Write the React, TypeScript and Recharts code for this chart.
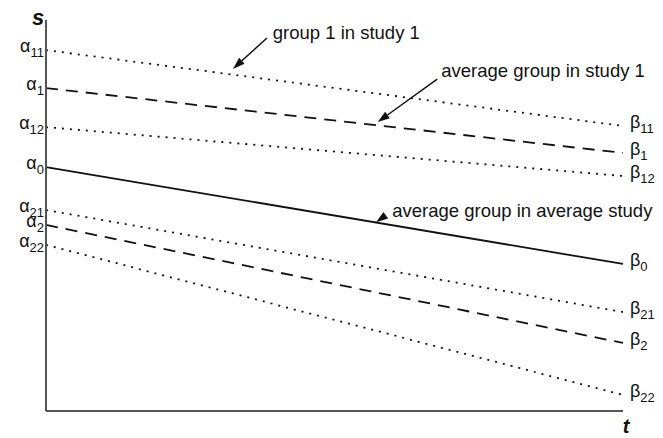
import { LineChart, Line, XAxis, YAxis, ReferenceLine, ReferenceDot } from 'recharts';

// time points (start / end of each line)
const times = [0, 1];

const seriesKeys = ['g11', 'g1', 'g12', 'g0', 'g21', 'g2', 'g22'];
const subscripts = ['11', '1', '12', '0', '21', '2', '22'];
// intercepts (alpha) and end values (beta)
const alphas = [92.3, 82.6, 72.6, 62.4, 51.4, 47.6, 42.5];
const betas = [72.9, 66.0, 60.1, 37.6, 25.3, 17.4, 4.1];
const dashes = ['2 6', '12 8', '2 6', undefined, '2 6', '12 8', '2 6'];

const annotationTexts = ['group 1 in study 1', 'average group in study 1', 'average group in average study'];
const arrowTails = [{ x: 0.383, y: 95.4 }, { x: 0.678, y: 84.9 }, { x: 0.589, y: 50.1 }];
const arrowTips = [{ x: 0.324, y: 87.5 }, { x: 0.575, y: 73.9 }, { x: 0.572, y: 48.3 }];
const labelPoints = [{ x: 0.393, y: 96.7 }, { x: 0.685, y: 87.0 }, { x: 0.6, y: 51.2 }];

const data = times.map((t, i) => {
  const row: Record<string, number> = { t };
  seriesKeys.forEach((k, j) => {
    row[k] = i === 0 ? alphas[j] : betas[j];
  });
  return row;
});

const FONT = '"Liberation Sans", Arial, sans-serif';
const AXIS = '#555';

const greekLabel = (letter: string, sub: string, x: number, y: number, anchor: 'start' | 'end') => (
  <text x={x} y={y} textAnchor={anchor} fontFamily={FONT} fill="#111">
    <tspan fontSize={18} dy={2}>{letter}</tspan>
    <tspan fontSize={13} dy={5}>{sub}</tspan>
  </text>
);

const AlphaTick = (props: any) => {
  const idx = alphas.indexOf(props.payload.value);
  return greekLabel('\u03b1', subscripts[idx], 44, props.y, 'end');
};

const arrowShape = (props: any) => {
  const { x1, y1, x2, y2 } = props;
  const ang = Math.atan2(y2 - y1, x2 - x1);
  const len = 12;
  const hw = 4;
  const bx = x2 - len * Math.cos(ang);
  const by = y2 - len * Math.sin(ang);
  const px = -Math.sin(ang) * hw;
  const py = Math.cos(ang) * hw;
  return (
    <g>
      <line x1={x1} y1={y1} x2={bx} y2={by} stroke="#111" strokeWidth={1.5} />
      <polygon points={`${x2},${y2} ${bx + px},${by + py} ${bx - px},${by - py}`} fill="#111" />
    </g>
  );
};

export default function App() {
  return (
    <div style={{ position: 'absolute', left: 0, top: 0, width: 663, height: 438, background: '#fff' }}>
      <LineChart width={663} height={438} data={data} margin={{ top: 20, right: 40, bottom: 0, left: 0 }}>
        <XAxis
          dataKey="t"
          type="number"
          domain={[0, 1]}
          ticks={[]}
          tickLine={false}
          axisLine={{ stroke: AXIS, strokeWidth: 2 }}
          height={27}
          label={{
            content: (p: any) => (
              <text x={p.viewBox.x + p.viewBox.width + 3} y={p.viewBox.y + 22} fontFamily={FONT} fontSize={20} fontWeight="bold" fontStyle="italic" textAnchor="middle" fill="#111">t</text>
            ),
          }}
        />
        <YAxis
          yAxisId="left"
          type="number"
          domain={[0, 100]}
          width={46}
          ticks={alphas}
          interval={0}
          tickLine={false}
          axisLine={{ stroke: AXIS, strokeWidth: 2 }}
          tick={AlphaTick}
          label={{
            content: (p: any) => (
              <text x={p.viewBox.x + p.viewBox.width - 8} y={p.viewBox.y + 5} fontFamily={FONT} fontSize={22} fontWeight="bold" fontStyle="italic" textAnchor="middle" fill="#111">s</text>
            ),
          }}
        />
        {seriesKeys.map((k, j) => (
          <Line
            key={k}
            yAxisId="left"
            dataKey={k}
            type="linear"
            stroke="#111"
            strokeWidth={1.8}
            strokeDasharray={dashes[j]}
            dot={false}
            activeDot={false}
            isAnimationActive={false}
          />
        ))}
        {betas.map((b, j) => (
          <ReferenceDot
            key={'b' + j}
            yAxisId="left"
            x={times[1]}
            y={b}
            ifOverflow="visible"
            shape={(p: any) => greekLabel('\u03b2', subscripts[j], p.cx + 7, p.cy, 'start')}
          />
        ))}
        {annotationTexts.map((txt, i) => (
          <ReferenceLine
            key={'a' + i}
            yAxisId="left"
            segment={[arrowTails[i], arrowTips[i]]}
            shape={arrowShape}
            ifOverflow="visible"
          />
        ))}
        {annotationTexts.map((txt, i) => (
          <ReferenceDot
            key={'t' + i}
            yAxisId="left"
            x={labelPoints[i].x}
            y={labelPoints[i].y}
            ifOverflow="visible"
            shape={(p: any) => (
              <text x={p.cx} y={p.cy} dy={6} fontFamily={FONT} fontSize={18.5} fill="#111">{txt}</text>
            )}
          />
        ))}
      </LineChart>
    </div>
  );
}
